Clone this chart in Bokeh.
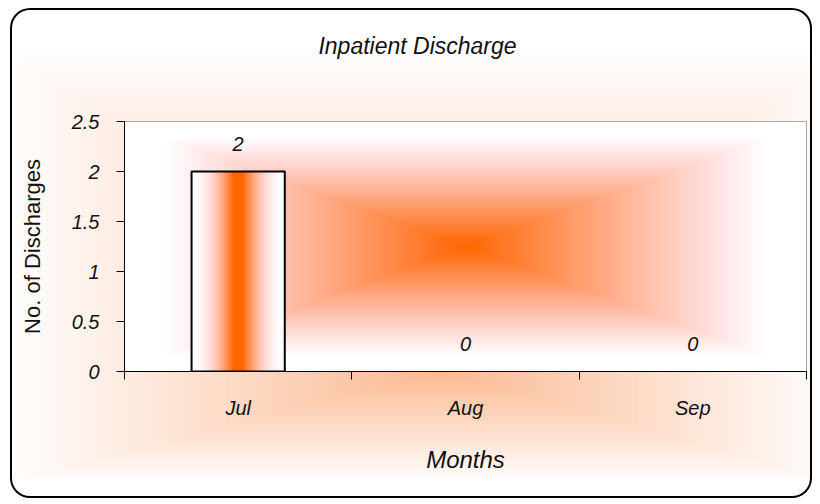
import zlib
import struct
import base64
import numpy as np
from bokeh.plotting import figure
from bokeh.models import FixedTicker, Range1d, Label
from bokeh.core.properties import value
from bokeh.embed import file_html
from bokeh.resources import INLINE

# ---------------- data ----------------
months = ["Jul", "Aug", "Sep"]
discharges = [2, 0, 0]
y_ticks = [0, 0.5, 1, 1.5, 2, 2.5]
y_tick_labels = ["0", "0.5", "1", "1.5", "2", "2.5"]
title_text = "Inpatient Discharge"
x_title = "Months"
y_title = "No. of Discharges"

# ---------------- styling ----------------
FONT = "Liberation Sans"
W, H = 802, 490
FRAME_W, FRAME_H = 682, 250
Y_MAX = y_ticks[-1]
N = len(months)
BAR_W = 0.41

xs = [i + 0.5 for i in range(N)]

p = figure(width=W, height=H, output_backend="svg", toolbar_location=None,
           x_range=Range1d(0, N), y_range=Range1d(0, Y_MAX),
           min_border_left=114, min_border_right=W - 114 - FRAME_W,
           min_border_top=113, min_border_bottom=H - 113 - FRAME_H)
p.margin = (8, 0, 0, 10)
p.title.visible = False
p.border_fill_color = None
p.background_fill_color = None
p.outline_line_color = "#8a8a8a"
p.outline_line_width = 1


def png_uri(rgb):
    h, w, _ = rgb.shape
    raw = b"".join(b"\x00" + rgb[r].tobytes() for r in range(h))

    def chunk(tag, data):
        c = struct.pack(">I", len(data)) + tag + data
        return c + struct.pack(">I", zlib.crc32(tag + data) & 0xFFFFFFFF)

    png = (b"\x89PNG\r\n\x1a\n"
           + chunk(b"IHDR", struct.pack(">IIBBBBB", w, h, 8, 2, 0, 0, 0))
           + chunk(b"IDAT", zlib.compress(raw, 9))
           + chunk(b"IEND", b""))
    return "data:image/png;base64," + base64.b64encode(png).decode()


# chart-area (outer) rectangular gradient, white -> soft peach
gw, gh = W // 2, H // 2
gx = np.arange(gw) * 2.0
gy = np.arange(gh) * 2.0
cx, cy = 430.0, 360.0
ux = np.where(gx < cx, (cx - gx) / 480.0, (gx - cx) / 440.0)
vy = np.where(gy < cy, (cy - gy) / (cy - 6), (gy - cy) / (H - 6 - cy))
GX, GY = np.meshgrid(ux, vy)
tt = np.maximum(GX, GY)
aa = np.clip(1 - tt / 0.9, 0, 1)
peak = np.array([251, 185, 145], dtype=float)
outer = 255 - (255 - peak)[None, None, :] * aa[..., None]
outer_rgb = np.clip(outer, 0, 255).astype(np.uint8)

p.styles = {
    "background-image": f"url('{png_uri(outer_rgb)}')",
    "background-size": "100% 100%",
    "background-repeat": "no-repeat",
    "border-radius": "20px",
    "box-shadow": "inset 0 0 0 2px #000000",
}


def rgba_image(a):
    """orange (#FF6600) -> white blend with a slightly pink mid tone"""
    img = np.empty(a.shape, dtype=np.uint32)
    view = img.view(dtype=np.uint8).reshape(a.shape + (4,))
    view[..., 0] = 255
    view[..., 1] = np.clip(255 - 153 * a, 0, 255).astype(np.uint8)
    view[..., 2] = np.clip(255 - 255 * a ** 1.25, 0, 255).astype(np.uint8)
    view[..., 3] = 255
    return img


# plot-area "from centre" rectangular gradient
u = np.linspace(-1, 1, 341)
v = np.linspace(-1, 1, 125)
U, V = np.meshgrid(u, v)
t = np.maximum(np.abs(U), np.abs(V))
a_bg = np.clip(1 - t / 0.88, 0, 1) ** 0.95
p.image_rgba(image=[rgba_image(a_bg)], x=p.x_range.start, y=p.y_range.start,
             dw=p.x_range.end - p.x_range.start, dh=p.y_range.end - p.y_range.start)

# bar fill: vertical stripe gradient from centre
ub = np.linspace(-1, 1, 93)
a_bar = np.tile((np.clip((1 - np.abs(ub)) / 0.9, 0, 1) ** 1.8)[None, :], (2, 1))
bar_img = rgba_image(a_bar)
for x, val in zip(xs, discharges):
    if val > 0:
        p.image_rgba(image=[bar_img], x=x - BAR_W / 2, y=0, dw=BAR_W, dh=val)

p.vbar(x=xs, top=discharges, width=BAR_W, fill_color=None,
       line_color="black", line_width=2,
       line_alpha=[1.0 if d > 0 else 0.0 for d in discharges])

# data labels
p.text(x=xs, y=discharges, text=[str(d) for d in discharges],
       y_offset=-21, text_align="center", text_baseline="bottom",
       text_font=value(FONT), text_font_style="italic",
       text_font_size="20px", text_color="#111111")

# chart title, placed in the panel above the plot frame
p.add_layout(Label(x=293, y=76, x_units="screen", y_units="screen",
                   text=title_text, text_align="center", text_baseline="middle",
                   text_font=FONT, text_font_style="italic",
                   text_font_size="23px", text_color="#111111"), "above")

# axes
xa = p.xaxis[0]
xa.ticker = FixedTicker(ticks=xs, minor_ticks=list(range(N + 1)))
xa.major_label_overrides = {x: m for x, m in zip(xs, months)}
xa.major_tick_line_color = None
xa.minor_tick_line_color = "black"
xa.minor_tick_in = 0
xa.minor_tick_out = 8
xa.axis_line_color = "black"
xa.major_label_standoff = 17
xa.major_label_text_font = FONT
xa.major_label_text_font_style = "italic"
xa.major_label_text_font_size = "20px"
xa.major_label_text_color = "#111111"
xa.axis_label = x_title
xa.axis_label_standoff = 24
xa.axis_label_text_font = FONT
xa.axis_label_text_font_style = "italic"
xa.axis_label_text_font_size = "24px"
xa.axis_label_text_color = "#111111"

ya = p.yaxis[0]
ya.ticker = FixedTicker(ticks=y_ticks, minor_ticks=[])
ya.major_label_overrides = {t_: l for t_, l in zip(y_ticks, y_tick_labels)}
ya.major_tick_line_color = "black"
ya.major_tick_in = 0
ya.major_tick_out = 8
ya.minor_tick_line_color = None
ya.axis_line_color = "black"
ya.major_label_standoff = 17
ya.major_label_text_font = FONT
ya.major_label_text_font_style = "italic"
ya.major_label_text_font_size = "20px"
ya.major_label_text_color = "#111111"
ya.axis_label = y_title
ya.axis_label_standoff = 24
ya.axis_label_text_font = FONT
ya.axis_label_text_font_style = "normal"
ya.axis_label_text_font_size = "22px"
ya.axis_label_text_color = "#111111"

p.xgrid.grid_line_color = None
p.ygrid.ticker = FixedTicker(ticks=y_ticks[1:-1])
p.ygrid.grid_line_color = "#333333"
p.ygrid.grid_line_width = 1

open("out.html", "w").write(file_html(p, INLINE))
